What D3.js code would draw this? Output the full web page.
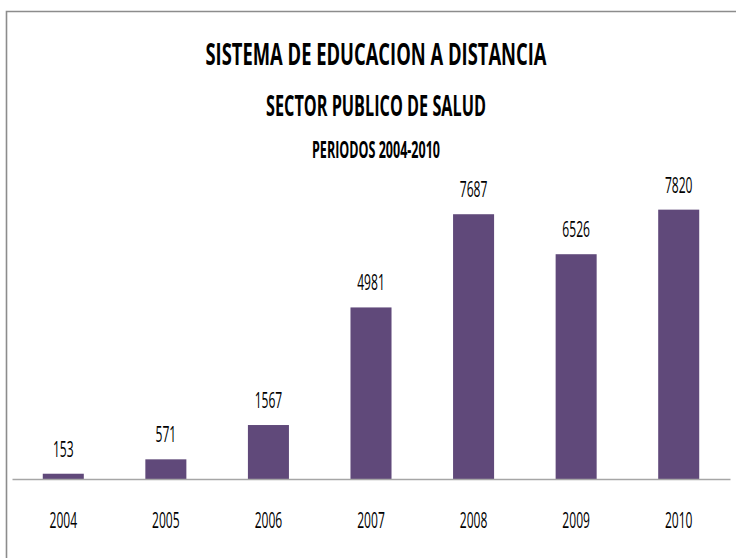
<!DOCTYPE html>
<html>
<head>
<meta charset="utf-8">
<script src="https://cdn.jsdelivr.net/npm/d3@7"></script>
<style>
  html, body { margin: 0; padding: 0; background: #fff; }
  svg { display: block; }
  text { font-family: "Open Sans", "Liberation Sans", sans-serif; fill: #000; }
</style>
</head>
<body>
<svg id="chart" width="736" height="558"></svg>
<script>
// Students enrolled per year
const years = ["2004", "2005", "2006", "2007", "2008", "2009", "2010"];
const students = [153, 571, 1567, 4981, 7687, 6526, 7820];
const titles = ["SISTEMA DE EDUCACION A DISTANCIA", "SECTOR PUBLICO DE SALUD", "PERIODOS 2004-2010"];

const svg = d3.select("#chart");
const W = 736, H = 558;

// chart frame
svg.append("path")
  .attr("d", `M6.5,${H} V11.5 H${W}`)
  .attr("fill", "none")
  .attr("stroke", "#8c8c8c")
  .attr("stroke-width", 1.6);

const x = d3.scaleBand().domain(years).range([12, 730]).paddingInner(0.6).paddingOuter(0.3);
const y = d3.scaleLinear().domain([0, 9000]).range([479, 169]);

// headings (condensed bold)
const titleSpec = [
  { size: 31, base: 65, len: 341 },
  { size: 29, base: 116, len: 220 },
  { size: 23.5, base: 158, len: 128 }
];
svg.selectAll("text.title").data(titles).join("text")
  .attr("class", "title")
  .attr("x", 376)
  .attr("y", (d, i) => titleSpec[i].base)
  .attr("text-anchor", "middle")
  .attr("font-weight", "bold")
  .attr("font-size", (d, i) => titleSpec[i].size)
  .attr("textLength", (d, i) => titleSpec[i].len)
  .attr("lengthAdjust", "spacingAndGlyphs")
  .text(d => d);

const data = years.map((yr, i) => ({ yr, v: students[i] }));

// bars
svg.selectAll("rect.bar").data(data).join("rect")
  .attr("class", "bar")
  .attr("x", d => x(d.yr))
  .attr("width", x.bandwidth())
  .attr("y", d => y(d.v))
  .attr("height", d => y(0) - y(d.v))
  .attr("fill", "#60497a");

// category axis
const axis = svg.append("g")
  .attr("transform", `translate(0,${y(0)})`)
  .call(d3.axisBottom(x).tickSize(0).tickPadding(0));
axis.select(".domain").attr("stroke", "#a6a6a6").attr("stroke-width", 1.6);
axis.selectAll(".tick text").remove();

// narrow figures: ~6.9px per digit
const digitW = 6.9;
svg.selectAll("text.year").data(data).join("text")
  .attr("class", "year")
  .attr("x", d => x(d.yr) + x.bandwidth() / 2)
  .attr("y", 528)
  .attr("text-anchor", "middle")
  .attr("font-size", 22.5)
  .attr("textLength", d => d.yr.length * digitW)
  .attr("lengthAdjust", "spacingAndGlyphs")
  .text(d => d.yr);

// value labels
svg.selectAll("text.val").data(data).join("text")
  .attr("class", "val")
  .attr("x", d => x(d.yr) + x.bandwidth() / 2)
  .attr("y", d => y(d.v) - 17)
  .attr("text-anchor", "middle")
  .attr("font-size", 22.5)
  .attr("textLength", d => String(d.v).length * digitW)
  .attr("lengthAdjust", "spacingAndGlyphs")
  .text(d => d.v);
</script>
</body>
</html>
